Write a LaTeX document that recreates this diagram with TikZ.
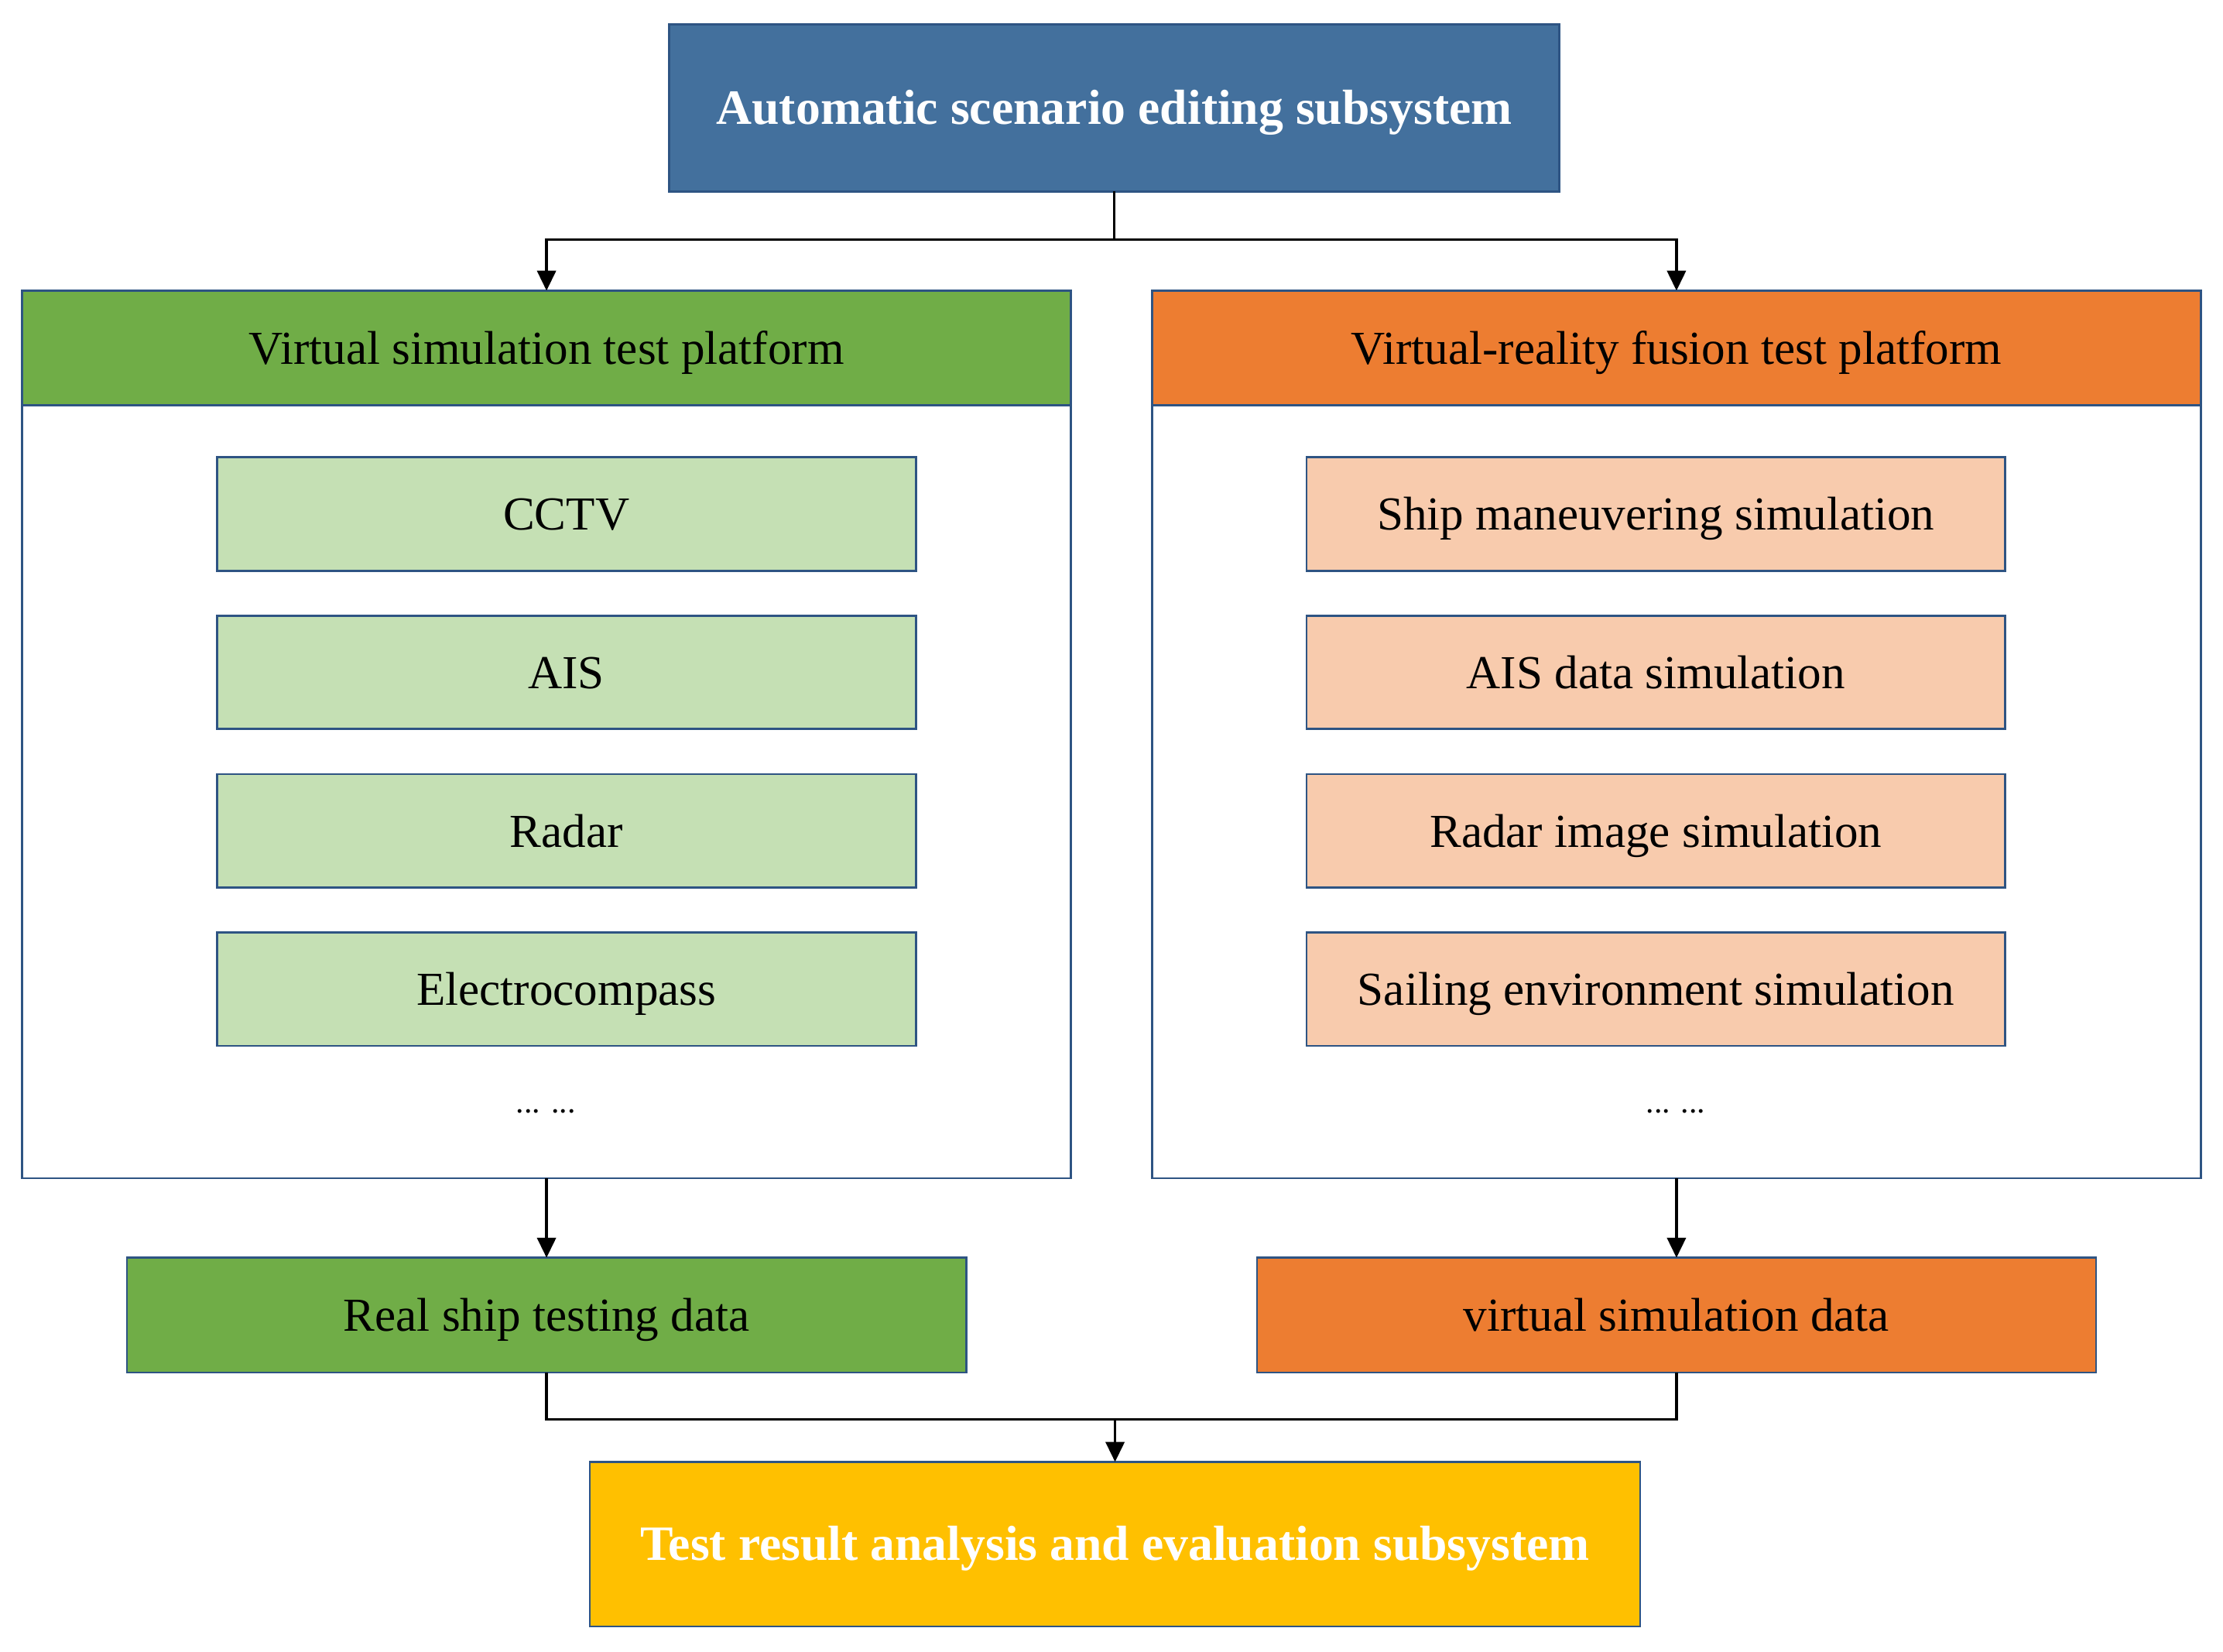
\documentclass[tikz,border=0pt]{standalone}
\usepackage{fontspec}
\setmainfont{Liberation Serif}
\usetikzlibrary{arrows.meta}

\definecolor{edgeblue}{HTML}{2E5483}
\definecolor{topblue}{HTML}{43709D}
\definecolor{dgreen}{HTML}{70AD47}
\definecolor{lgreen}{HTML}{C5E0B4}
\definecolor{dorange}{HTML}{ED7D31}
\definecolor{lorange}{HTML}{F8CBAD}
\definecolor{gold}{HTML}{FFC000}

\begin{document}
\begin{tikzpicture}
    \def\dx{0.02cm}
    \def\dy{0.02cm}

    \useasboundingbox (0,0) rectangle (1568*\dx,-1165*\dy);

    \tikzstyle{box}=[draw=edgeblue,line width=0.85pt,inner sep=0pt,outer sep=0pt,text height=14pt,text depth=1pt,font=\fontsize{19}{23}\selectfont]
    \tikzstyle{subsys}=[box,text=white,font=\fontsize{19.8}{23}\selectfont\bfseries]
    \tikzstyle{panel}=[box,fill=white,minimum width=14.8cm,minimum height=12.52cm]
    \tikzstyle{head}=[box,minimum width=14.8cm,minimum height=1.62cm]
    \tikzstyle{item}=[box,minimum width=9.86cm,minimum height=1.6cm]
    \tikzstyle{dataout}=[box,minimum width=11.84cm,minimum height=1.62cm]
    \tikzstyle{more}=[font=\fontsize{13}{15}\selectfont]

    \node[subsys,fill=topblue,minimum width=12.56cm,minimum height=2.36cm] (scen) at (786*\dx,-76*\dy) {Automatic scenario editing subsystem};

    \node[panel] (vpanel) at (385.5*\dx,-518*\dy) {};
    \node[panel] (fpanel) at (1182.5*\dx,-518*\dy) {};
    \node[head,fill=dgreen] (vhead) at (385.5*\dx,-245.5*\dy) {Virtual simulation test platform};
    \node[head,fill=dorange] (fhead) at (1182.5*\dx,-245.5*\dy) {Virtual-reality fusion test platform};

    \node[item,fill=lgreen] (cctv) at (399.5*\dx,-362.5*\dy) {CCTV};
    \node[item,fill=lgreen] (ais) at (399.5*\dx,-474.2*\dy) {AIS};
    \node[item,fill=lgreen] (radar) at (399.5*\dx,-585.9*\dy) {Radar};
    \node[item,fill=lgreen] (ecomp) at (399.5*\dx,-697.6*\dy) {Electrocompass};
    \node[more] (vmore) at (385*\dx,-784*\dy) {... ...};

    \node[item,fill=lorange] (shipsim) at (1168*\dx,-362.5*\dy) {Ship maneuvering simulation};
    \node[item,fill=lorange] (aissim) at (1168*\dx,-474.2*\dy) {AIS data simulation};
    \node[item,fill=lorange] (radarsim) at (1168*\dx,-585.9*\dy) {Radar image simulation};
    \node[item,fill=lorange] (envsim) at (1168*\dx,-697.6*\dy) {Sailing environment simulation};
    \node[more] (fmore) at (1182*\dx,-784*\dy) {... ...};

    \node[dataout,fill=dgreen] (rdata) at (385.5*\dx,-927.5*\dy) {Real ship testing data};
    \node[dataout,fill=dorange] (sdata) at (1182.5*\dx,-927.5*\dy) {virtual simulation data};

    \node[subsys,fill=gold,minimum width=14.82cm,minimum height=2.32cm] (eval) at (786.5*\dx,-1089*\dy) {Test result analysis and evaluation subsystem};

    \coordinate (split) at (786*\dx,-169*\dy);
    \coordinate (merge) at (786.5*\dx,-1001*\dy);

    \tikzstyle{fwd} = [draw=black, line width=1pt, -{Triangle[length=8pt,width=7.5pt]}]
    \tikzstyle{lnk} = [draw=black, line width=1pt]

          \draw [lnk] (scen.south) -- (split);
          \draw [fwd] (split) -| (vhead.north);
          \draw [fwd] (split) -| (fhead.north);
          \draw [fwd] (vpanel.south) -- (rdata.north);
          \draw [fwd] (fpanel.south) -- (sdata.north);
          \draw [lnk] (rdata.south) |- (merge);
          \draw [lnk] (sdata.south) |- (merge);
          \draw [fwd] (merge) -- (eval.north);

  \end{tikzpicture}
\end{document}
